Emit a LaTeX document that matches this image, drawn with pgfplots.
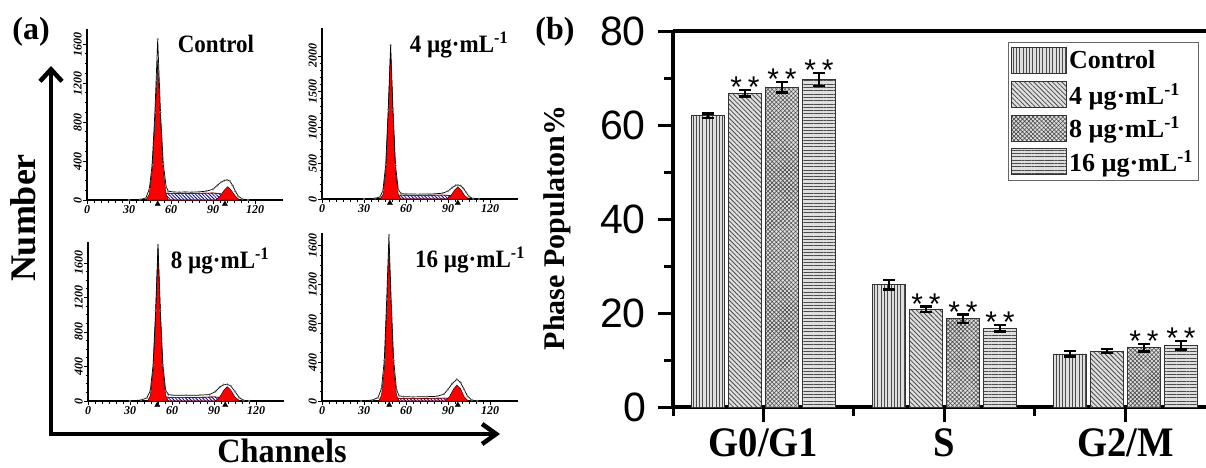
\documentclass[border=0pt]{standalone}
\usepackage{pgfplots}
\pgfplotsset{compat=1.18}
\usepackage{pgfplotstable}
\usepackage{fontspec}
\setmainfont{Liberation Serif}
\newfontfamily\arial{Liberation Sans}
\usetikzlibrary{patterns.meta,arrows.meta}

\newcommand\fs[1]{\fontsize{#1}{#1}\selectfont}

% phase populations (%), error, significance marks
\pgfplotstableread{
x c    ce   d4   d4e  d8   d8e  d16  d16e s4 s8 s16
1 62.0 0.5  66.8 0.7  68.0 1.1  69.7 1.4  y  y  y
2 26.0 1.0  20.8 0.6  18.8 0.9  16.8 0.7  y  y  y
3 11.3 0.6  11.9 0.4  12.6 0.8  13.1 0.9  n  y  y
}\bars

\pgfplotsset{
  hist/.style={
    scale only axis, width=196pt, xmin=0, xmax=140, ymin=0,
    axis x line*=bottom, axis y line*=left,
    axis line style={line width=2pt},
    tick align=outside, tick style={black, line width=0.8pt},
    major tick length=4pt, minor tick length=2.5pt,
    xtick={0,30,...,120}, minor x tick num=5,
    ticklabel style={font=\fs{12}\bfseries\itshape, inner sep=1pt},
    /pgf/number format/assume math mode=true,
    /pgf/number format/1000 sep={},
    scaled ticks=false,
    yticklabel style={rotate=90, anchor=south},
    clip=false,
  },
  redpk/.style={fill=red, draw=black, line width=0.4pt},
  sph/.style={draw=red!50!black, line width=0.6pt, fill=white,
    postaction={pattern={Lines[angle=-45,distance=2.4pt,line width=0.8pt]}, pattern color=blue!60!black}},
  tot/.style={black, line width=0.7pt, mark=o, mark size=1pt, mark options={gray, line width=0.4pt}},
  tri/.style={only marks, mark=triangle*, mark size=3pt, mark options={black, yshift=-4pt}},
  stars/.style={
    nodes near coords={\if y\pgfplotspointmeta *\hspace{6pt}*\fi},
    point meta=explicit symbolic,
    visualization depends on={\thisrow{#1} \as \eb},
    every node near coord/.append style={font=\arial\fs{30}, anchor=south, inner sep=0pt, yshift=\eb*4.7pt-8pt, black},
  },
}

\begin{document}
\begin{tikzpicture}
\useasboundingbox (0,0) rectangle (1206pt,467pt);

% ---------- panel (a) ----------
\node[font=\fs{32}\bfseries] at (31pt,435pt) {(a)};
\draw[line width=4.5pt, {Straight Barb[length=12pt,width=22pt]}-{Straight Barb[length=14pt,width=20pt]}]
  (51pt,401pt) -- (51pt,33pt) -- (500pt,33pt);
\node[rotate=90, font=\fs{36}\bfseries] at (23pt,249pt) {Number};
\node[anchor=base, inner sep=0pt, font=\fs{34}\bfseries, xscale=0.95] at (282pt,5pt) {Channels};

% Control
\begin{axis}[hist, at={(87pt,267pt)}, anchor=south west, height=171pt, ymax=1754,
  ytick={0,400,...,1600}, minor y tick num=3]
\addplot[sph] coordinates {(44,0)(48,40)(52,75)(56,70)(60,68)(70,66)(80,68)(90,72)(95,65)(100,35)(104,10)(107,0)} \closedcycle;
\addplot[redpk] coordinates {(42,0)(44.5,60)(46.5,300)(48.5,800)(50.5,1436)(52.5,800)(54.5,300)(56.5,60)(58,0)} \closedcycle;
\addplot[redpk] coordinates {(92,0)(95,40)(98,100)(100.5,137)(103,100)(106,40)(109,0)} \closedcycle;
\addplot[tot] coordinates {(30,0)(38,5)(42,20)(44.5,110)(46.5,360)(48.5,900)(50.5,1650)(52.5,900)(54.5,370)(56.5,140)(58,90)(62,82)(66,80)(70,82)(75,80)(80,84)(85,90)(90,110)(93,150)(96,185)(98,200)(100,205)(102,195)(104,150)(106,90)(108,40)(111,10)(115,0)};
\addplot[tri] coordinates {(50.5,0)(98.5,0)};
\end{axis}
\node[font=\fs{25}\bfseries, xscale=0.92] at (216pt,423pt) {Control};

% 4 ug/mL
\begin{axis}[hist, at={(322pt,268pt)}, anchor=south west, height=171pt, ymax=2391,
  ytick={0,500,...,2000}, minor y tick num=4]
\addplot[sph] coordinates {(42,0)(46,30)(50,60)(55,55)(60,52)(70,50)(80,53)(88,55)(93,45)(98,20)(103,0)} \closedcycle;
\addplot[redpk] coordinates {(41.5,0)(43.5,60)(45.5,400)(47.3,1200)(49,2122)(50.7,1200)(52.5,400)(54.5,60)(56.5,0)} \closedcycle;
\addplot[redpk] coordinates {(89,0)(92,45)(94.5,120)(97,172)(99.5,120)(102,45)(105,0)} \closedcycle;
\addplot[tot] coordinates {(30,0)(38,10)(41.5,30)(43.5,120)(45.5,480)(47.3,1250)(49,2150)(50.7,1250)(52.5,470)(54.5,130)(56.5,75)(60,70)(70,68)(80,72)(86,80)(90,110)(93,160)(95.5,190)(97,196)(99,185)(101,150)(103,90)(105,35)(108,5)(112,0)};
\addplot[tri] coordinates {(48.5,0)(97,0)};
\end{axis}
\node[font=\fs{25}\bfseries, xscale=0.92] at (459pt,422pt) {4 µg·mL\textsuperscript{-1}};

% 8 ug/mL
\begin{axis}[hist, at={(88pt,66pt)}, anchor=south west, height=159pt, ymax=1843,
  ytick={0,400,...,1600}, minor y tick num=3]
\addplot[sph] coordinates {(43,0)(47,25)(52,50)(56,45)(60,40)(70,40)(80,42)(90,48)(95,40)(100,20)(106,0)} \closedcycle;
\addplot[redpk] coordinates {(42.5,0)(44.5,60)(46.5,350)(48.3,1000)(50,1789)(51.7,1000)(53.5,350)(55.5,60)(57.5,0)} \closedcycle;
\addplot[redpk] coordinates {(91,0)(94,45)(97,125)(99.5,166)(102,125)(105,45)(108.5,0)} \closedcycle;
\addplot[tot] coordinates {(30,0)(38,12)(42,35)(44.5,120)(46.5,420)(48.3,1050)(50,1808)(51.7,1050)(53.5,420)(55.5,120)(57.5,75)(60,68)(70,66)(80,68)(87,75)(91,110)(94,160)(97,190)(99.5,193)(102,175)(105,110)(108,40)(111,8)(115,0)};
\addplot[tri] coordinates {(49.5,0)(98,0)};
\end{axis}
\node[font=\fs{25}\bfseries, xscale=0.92] at (220pt,206pt) {8 µg·mL\textsuperscript{-1}};

% 16 ug/mL
\begin{axis}[hist, at={(322pt,66pt)}, anchor=south west, height=168pt, ymax=1733,
  ytick={0,400,...,1600}, minor y tick num=3]
\addplot[sph] coordinates {(42,0)(46,15)(50,30)(55,28)(60,25)(70,25)(80,27)(88,30)(93,25)(98,10)(102,0)} \closedcycle;
\addplot[redpk] coordinates {(40.5,0)(42.5,60)(44.5,330)(46.2,950)(47.8,1603)(49.4,950)(51.2,330)(53.2,60)(55,0)} \closedcycle;
\addplot[redpk] coordinates {(88,0)(91,45)(94,125)(96.4,165)(99,125)(101.5,45)(104.5,0)} \closedcycle;
\addplot[tot] coordinates {(28,0)(36,10)(40,35)(42.5,130)(44.5,420)(46.2,1050)(47.8,1713)(49.4,1050)(51.2,420)(53.2,120)(55,55)(58,45)(65,42)(75,45)(82,48)(87,70)(90,120)(93,180)(96.4,224)(99,190)(101.5,120)(104,50)(107,10)(111,0)};
\addplot[tri] coordinates {(48,0)(97,0)};
\end{axis}
\node[font=\fs{25}\bfseries, xscale=0.92] at (470pt,207pt) {16 µg·mL\textsuperscript{-1}};

% ---------- panel (b) ----------
\node[font=\fs{32}\bfseries] at (555pt,435pt) {(b)};
\node[rotate=90, font=\fs{30}\bfseries] at (557pt,239pt) {Phase Populaton\%};

\begin{axis}[
  at={(673pt,60pt)}, anchor=south west,
  scale only axis, width=533pt, height=376pt,
  xmin=0.5, xmax=3.445, ymin=0, ymax=80,
  axis x line*=box, axis y line*=left,
  axis line style={line width=3.5pt},
  ybar, bar width=33pt,
  xtick={1,2,3}, xticklabels={G0/G1,S,G2/M},
  minor xtick={0.5,1.5,2.5},
  ytick={0,20,...,80}, minor ytick={10,30,50,70},
  tick align=outside, tick pos=left,
  major tick length=15pt, minor tick length=9pt,
  tick style={black, line width=3pt},
  /pgf/number format/assume math mode=true,
  yticklabel style={font=\arial\fs{41}, inner sep=0pt, xshift=-12pt},
  xticklabel style={font=\fs{42}\bfseries, inner sep=0pt, yshift=-6pt, xscale=0.92},
  error bars/error bar style={line width=2.5pt, black},
  error bars/error mark options={rotate=90, black, mark size=6pt, line width=2.5pt},
  legend style={at={(0.6285,0.971)}, anchor=north west, draw=black!60, line width=0.8pt,
    font=\fs{26}\bfseries, cells={anchor=west}, row sep=7pt, inner xsep=3pt, inner ysep=5pt},
  legend image code/.code={\draw[line width=0.7pt, #1] (0pt,-13pt) rectangle (55pt,13pt);},
]
\addplot[bar shift=-55.5pt, fill=gray!25, draw=black!80, line width=0.7pt,
  postaction={pattern={Lines[angle=90,distance=3.3pt,line width=0.9pt]}, pattern color=black!70},
  error bars/y dir=both, error bars/y explicit]
  table[x=x, y=c, y error=ce] {\bars};
\addplot[bar shift=-18.5pt, fill=gray!25, draw=black!80, line width=0.7pt,
  postaction={pattern={Lines[angle=-45,distance=3.3pt,line width=0.8pt]}, pattern color=black!70},
  error bars/y dir=both, error bars/y explicit, stars=d4e]
  table[x=x, y=d4, y error=d4e, meta=s4] {\bars};
\addplot[bar shift=18.5pt, fill=gray!25, draw=black!80, line width=0.7pt,
  postaction={pattern={Hatch[angle=45,distance=3pt,line width=0.6pt]}, pattern color=black!70},
  error bars/y dir=both, error bars/y explicit, stars=d8e]
  table[x=x, y=d8, y error=d8e, meta=s8] {\bars};
\addplot[bar shift=55.5pt, fill=gray!25, draw=black!80, line width=0.7pt,
  postaction={pattern={Lines[angle=0,distance=3.3pt,line width=0.9pt]}, pattern color=black!70},
  error bars/y dir=both, error bars/y explicit, stars=d16e]
  table[x=x, y=d16, y error=d16e, meta=s16] {\bars};
\legend{Control, 4 µg·mL\textsuperscript{-1}, 8 µg·mL\textsuperscript{-1}, 16 µg·mL\textsuperscript{-1}}
\end{axis}
\end{tikzpicture}
\end{document}
